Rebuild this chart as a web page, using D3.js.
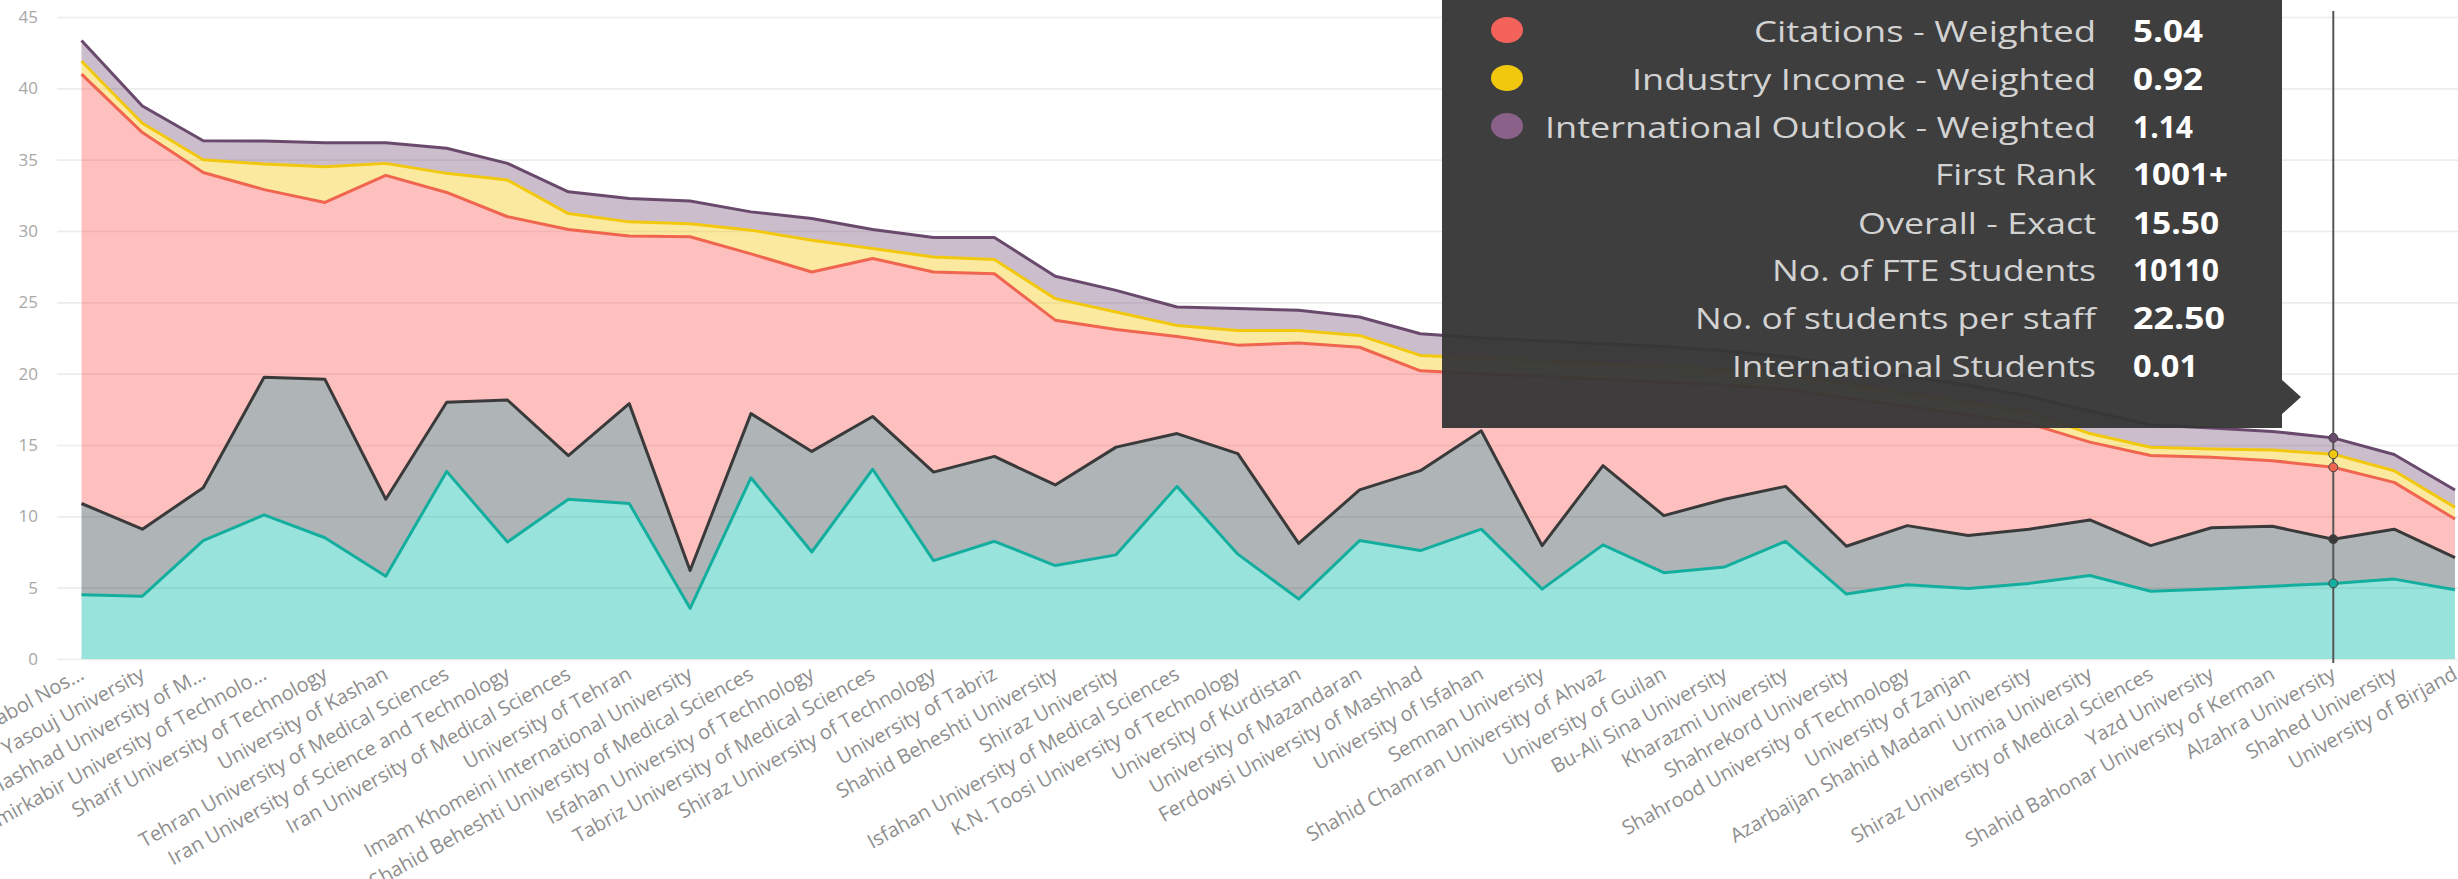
<!DOCTYPE html>
<html>
<head>
<meta charset="utf-8">
<script src="https://cdn.jsdelivr.net/npm/d3@7"></script>
<style>
  html, body { margin: 0; padding: 0; background: #ffffff; overflow: hidden; }
  svg { display: block; }
</style>
</head>
<body>
<svg id="chart" width="2458" height="879"></svg>
<script>
// ---------------- DATA ----------------
const universities = [
  "Babol Nos…", "Yasouj University", "Mashhad University of M…", "Amirkabir University of Technolo…",
  "Sharif University of Technology", "University of Kashan", "Tehran University of Medical Sciences",
  "Iran University of Science and Technology", "Iran University of Medical Sciences", "University of Tehran",
  "Imam Khomeini International University", "Shahid Beheshti University of Medical Sciences",
  "Isfahan University of Technology", "Tabriz University of Medical Sciences", "Shiraz University of Technology",
  "University of Tabriz", "Shahid Beheshti University", "Shiraz University",
  "Isfahan University of Medical Sciences", "K.N. Toosi University of Technology", "University of Kurdistan",
  "University of Mazandaran", "Ferdowsi University of Mashhad", "University of Isfahan", "Semnan University",
  "Shahid Chamran University of Ahvaz", "University of Guilan", "Bu-Ali Sina University", "Kharazmi University",
  "Shahrekord University", "Shahrood University of Technology", "University of Zanjan",
  "Azarbaijan Shahid Madani University", "Urmia University", "Shiraz University of Medical Sciences",
  "Yazd University", "Shahid Bahonar University of Kerman", "Alzahra University", "Shahed University",
  "University of Birjand"
];

const teaching = [4.5, 4.4, 8.3, 10.1, 8.5, 5.8, 13.15, 8.2, 11.2, 10.9,
  3.55, 12.7, 7.5, 13.3, 6.9, 8.25, 6.55, 7.3, 12.1, 7.35,
  4.2, 8.3, 7.6, 9.1, 4.9, 8.0, 6.05, 6.45, 8.25, 4.55,
  5.2, 4.95, 5.3, 5.85, 4.75, 4.9, 5.1, 5.3, 5.6, 4.85];

const research = [6.4, 4.7, 3.7, 9.65, 11.1, 5.4, 4.85, 9.95, 3.05, 7.0,
  2.65, 4.5, 7.05, 3.7, 6.2, 5.95, 5.65, 7.55, 3.7, 7.05,
  3.9, 3.55, 5.6, 6.9, 3.05, 5.55, 4.0, 4.75, 3.85, 3.35,
  4.15, 3.7, 3.8, 3.9, 3.2, 4.3, 4.2, 3.1, 3.5, 2.25];

const citations = [30.1, 27.8, 22.1, 13.15, 12.4, 22.7, 14.7, 12.85, 15.85, 11.75,
  23.4, 11.2, 12.58, 11.07, 14.03, 12.8, 11.55, 8.25, 6.8, 7.6,
  14.05, 10.0, 7.0, 4.0, 11.85, 6.05, 9.35, 8.0, 6.8, 10.4,
  8.35, 8.45, 7.4, 5.45, 6.31, 4.94, 4.6, 5.04, 3.28, 2.71];

const industryIncome = [0.9, 0.65, 0.9, 1.8, 2.5, 0.84, 1.34, 2.57, 1.12, 0.99,
  0.9, 1.66, 2.22, 0.7, 1.05, 1.0, 1.51, 1.22, 0.78, 1.03,
  0.88, 0.83, 1.08, 1.1, 1.1, 1.1, 1.1, 1.1, 1.0, 1.0,
  0.9, 0.9, 0.8, 0.6, 0.58, 0.58, 0.75, 0.92, 0.82, 0.82];

const internationalOutlook = [1.45, 1.21, 1.33, 1.6, 1.69, 1.45, 1.76, 1.17, 1.53, 1.64,
  1.6, 1.28, 1.53, 1.33, 1.36, 1.54, 1.57, 1.52, 1.29, 1.53,
  1.41, 1.29, 1.52, 1.4, 1.4, 1.4, 1.4, 1.3, 1.3, 1.2,
  1.2, 1.2, 1.1, 1.6, 1.56, 1.48, 1.3, 1.14, 1.13, 1.22];

const seriesKeys = ["Teaching - Weighted", "Research - Weighted", "Citations - Weighted",
  "Industry Income - Weighted", "International Outlook - Weighted"];
const seriesValues = [teaching, research, citations, industryIncome, internationalOutlook];
const seriesColors = ["#01B8AA", "#374649", "#FD625E", "#F2C80F", "#7E5A80"];
const lineColors   = ["#14AE9F", "#3A3A3A", "#F0654F", "#F2C80F", "#6A4A6C"];

const yTicks = [0, 5, 10, 15, 20, 25, 30, 35, 40, 45];

const highlightIndex = 37; // Alzahra University

const tooltipLabels = ["Citations - Weighted", "Industry Income - Weighted", "International Outlook - Weighted",
  "First Rank", "Overall - Exact", "No. of FTE Students", "No. of students per staff", "International Students"];
const tooltipValues = ["5.04", "0.92", "1.14", "1001+", "15.50", "10110", "22.50", "0.01"];
const tooltipDotColors = ["#F4625C", "#F2C80F", "#8A6189", null, null, null, null, null];

// ---------------- CHART ----------------
const W = 2458, H = 879;
const svg = d3.select("#chart");
const FONT = "'Segoe UI', 'Open Sans', 'Noto Sans', sans-serif";

const rows = universities.map((u, i) => {
  const r = { name: u };
  seriesKeys.forEach((k, s) => r[k] = seriesValues[s][i]);
  return r;
});

const x = d3.scalePoint().domain(universities).range([81.5, 2455]);
const y = d3.scaleLinear().domain([0, 45]).range([659, 17]);

// gridlines + y labels
const yAxis = d3.axisLeft(y).tickValues(yTicks).tickSize(-(W - 57)).tickPadding(19);
const gy = svg.append("g").attr("transform", "translate(57,0)").call(yAxis);
gy.select(".domain").remove();
gy.selectAll(".tick line").attr("stroke", "#ececec").attr("stroke-width", 1.6);
gy.selectAll(".tick text").attr("fill", "#a8a8a8").style("font-family", FONT).style("font-size", "17px");

// stacked areas
const stacked = d3.stack().keys(seriesKeys)(rows);
const area = d3.area()
  .x((d, i) => x(universities[i]))
  .y0(d => y(d[0]))
  .y1(d => y(d[1]));
const line = d3.line()
  .x((d, i) => x(universities[i]))
  .y(d => y(d[1]));

svg.append("g").selectAll("path.area")
  .data(stacked).join("path")
  .attr("class", "area")
  .attr("d", area)
  .attr("fill", (d, i) => seriesColors[i])
  .attr("fill-opacity", 0.4);

svg.append("g").selectAll("path.line")
  .data(stacked).join("path")
  .attr("class", "line")
  .attr("d", line)
  .attr("fill", "none")
  .attr("stroke", (d, i) => lineColors[i])
  .attr("stroke-width", 3)
  .attr("stroke-linejoin", "round");

// x-axis labels
const xAxis = d3.axisBottom(x).tickSize(0);
const gx = svg.append("g").attr("transform", "translate(0,659)").call(xAxis);
gx.select(".domain").remove();
gx.selectAll(".tick text")
  .attr("y", 0).attr("x", 0).attr("dy", "0.75em")
  .attr("text-anchor", "end")
  .attr("transform", "translate(-4,6) rotate(-29)")
  .attr("fill", "#8e8e8e")
  .style("font-family", FONT)
  .style("font-size", "20px");

// highlight line & markers
const hx = x(universities[highlightIndex]);
svg.append("line")
  .attr("x1", hx).attr("x2", hx)
  .attr("y1", y(45) - 6).attr("y2", y(0) + 4)
  .attr("stroke", "#555").attr("stroke-width", 2);

svg.append("g").selectAll("circle")
  .data(stacked).join("circle")
  .attr("cx", hx)
  .attr("cy", d => y(d[highlightIndex][1]))
  .attr("r", 4.5)
  .attr("fill", (d, i) => lineColors[i])
  .attr("stroke", "#444").attr("stroke-width", 1);

// tooltip
const tip = svg.append("g");
const tL = 1442, tR = 2282, tB = 428;
tip.append("path")
  .attr("d", `M${tL},-5 L${tR},-5 L${tR},380 L${tR + 19},397 L${tR},414 L${tR},${tB} L${tL},${tB} Z`)
  .attr("fill", "#363636")
  .attr("fill-opacity", 0.96);

const rowY = [30, 78, 126, 173, 222, 269, 317, 365];
const labelWidths = [342, 464, 551, 161, 238, 324, 401, 364];
const valueWidths = [70, 70, 60, 95, 86, 86, 92, 65];

tip.selectAll("text.lbl")
  .data(tooltipLabels).join("text")
  .attr("class", "lbl")
  .attr("x", 2096).attr("y", (d, i) => rowY[i])
  .attr("dominant-baseline", "central")
  .attr("text-anchor", "end")
  .attr("textLength", (d, i) => labelWidths[i])
  .attr("lengthAdjust", "spacingAndGlyphs")
  .attr("fill", "#d2d2d2")
  .style("font-family", FONT).style("font-size", "30px")
  .text(d => d);

tip.selectAll("text.val")
  .data(tooltipValues).join("text")
  .attr("class", "val")
  .attr("x", 2133).attr("y", (d, i) => rowY[i])
  .attr("dominant-baseline", "central")
  .attr("textLength", (d, i) => valueWidths[i])
  .attr("lengthAdjust", "spacingAndGlyphs")
  .attr("fill", "#ffffff")
  .style("font-family", FONT).style("font-size", "30px").style("font-weight", "bold")
  .text(d => d);

tip.selectAll("ellipse")
  .data(tooltipDotColors.map((c, i) => ({ c, i })).filter(d => d.c)).join("ellipse")
  .attr("cx", 1507).attr("cy", d => rowY[d.i])
  .attr("rx", 16).attr("ry", 13)
  .attr("fill", d => d.c);
</script>
</body>
</html>
